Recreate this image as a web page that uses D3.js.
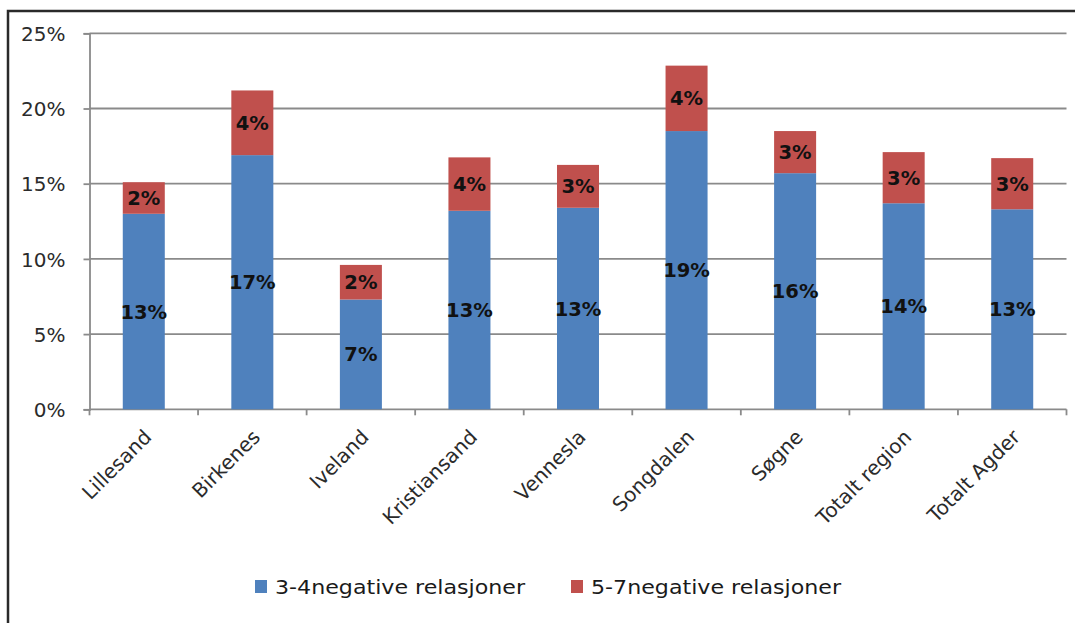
<!DOCTYPE html>
<html><head><meta charset="utf-8">
<script src="https://cdn.jsdelivr.net/npm/d3@7"></script>
<style>
html,body{margin:0;padding:0;background:#fff;}
svg text{font-family:"DejaVu Sans",Verdana,sans-serif;}
</style></head>
<body><svg id="c" width="1075" height="623"></svg>
<script>
const categories = ["Lillesand","Birkenes","Iveland","Kristiansand","Vennesla","Songdalen","Søgne","Totalt region","Totalt Agder"];
const series34 = [13.0,16.9,7.3,13.2,13.4,18.5,15.7,13.7,13.3];
const series57 = [2.1,4.3,2.3,3.55,2.85,4.35,2.8,3.4,3.4];
const labels34 = ["13%","17%","7%","13%","13%","19%","16%","14%","13%"];
const labels57 = ["2%","4%","2%","4%","3%","4%","3%","3%","3%"];
const seriesNames = ["3-4negative relasjoner","5-7negative relasjoner"];
const yTicks = [0,5,10,15,20,25];
const colors = ["#4F81BD","#C0504D"];

const svg = d3.select("#c");
svg.append("rect").attr("x",8).attr("y",11).attr("width",1080).attr("height",630)
  .attr("fill","none").attr("stroke","#2a2a2a").attr("stroke-width",2.5);

const L=89.5,R=1066.5,T=33.3,B=409.3;
const x = d3.scaleBand().domain(categories).range([L,R]).paddingInner(0.613).paddingOuter(0.3065);
const y = d3.scaleLinear().domain([0,25]).range([B,T]);
const gridCol = "#8a8a8a";

// gridlines
svg.append("g").selectAll("line").data(yTicks.filter(d=>d>0)).join("line")
  .attr("x1",L).attr("x2",R).attr("y1",d=>y(d)).attr("y2",d=>y(d))
  .attr("stroke",gridCol).attr("stroke-width",1.8);

// y axis
const ya = svg.append("g").attr("transform",`translate(${L},0)`)
  .call(d3.axisLeft(y).tickValues(yTicks).tickFormat(d=>d+"%").tickSize(6).tickPadding(18));
ya.select(".domain").attr("stroke",gridCol).attr("stroke-width",1.8);
ya.selectAll(".tick line").attr("stroke",gridCol).attr("stroke-width",1.8);
ya.selectAll("text").attr("font-size",20).attr("fill","#2b2b2b").attr("dy","0.36em");

// x axis line and ticks at category boundaries
const step = (R-L)/categories.length;
svg.append("line").attr("x1",L).attr("x2",R).attr("y1",B).attr("y2",B).attr("stroke",gridCol).attr("stroke-width",1.8);
svg.append("g").selectAll("line").data(d3.range(categories.length+1)).join("line")
  .attr("x1",i=>L+i*step).attr("x2",i=>L+i*step).attr("y1",B).attr("y2",B+6)
  .attr("stroke",gridCol).attr("stroke-width",1.8);

// bars
const g = svg.append("g");
categories.forEach((c,i)=>{
  const v1=series34[i], v2=series57[i];
  g.append("rect").attr("x",x(c)).attr("width",x.bandwidth())
    .attr("y",y(v1)).attr("height",y(0)-y(v1)).attr("fill",colors[0]);
  g.append("rect").attr("x",x(c)).attr("width",x.bandwidth())
    .attr("y",y(v1+v2)).attr("height",y(v1)-y(v1+v2)).attr("fill",colors[1]);
  const cx = x(c)+x.bandwidth()/2;
  g.append("text").attr("x",cx).attr("y",(y(0)+y(v1))/2).attr("dy","0.36em")
    .attr("text-anchor","middle").attr("font-size",19.5).attr("font-weight","bold").attr("fill","#111").text(labels34[i]);
  g.append("text").attr("x",cx).attr("y",(y(v1)+y(v1+v2))/2).attr("dy","0.36em")
    .attr("text-anchor","middle").attr("font-size",19.5).attr("font-weight","bold").attr("fill","#111").text(labels57[i]);
});

// x labels
svg.append("g").selectAll("text").data(categories).join("text")
  .attr("transform",d=>`translate(${x(d)+x.bandwidth()/2+9},${B+29}) rotate(-45)`)
  .attr("text-anchor","end").attr("font-size",20).attr("fill","#2b2b2b").text(d=>d);

// legend
const lg = svg.append("g");
const lx=[255,571];
seriesNames.forEach((n,i)=>{
  lg.append("rect").attr("x",lx[i]).attr("y",580).attr("width",12).attr("height",13).attr("fill",colors[i]);
  lg.append("text").attr("x",lx[i]+20).attr("y",587).attr("dy","0.36em").attr("font-size",20)
    .attr("textLength",250).attr("lengthAdjust","spacingAndGlyphs").attr("fill","#1a1a1a").text(n);
});
</script></body></html>
